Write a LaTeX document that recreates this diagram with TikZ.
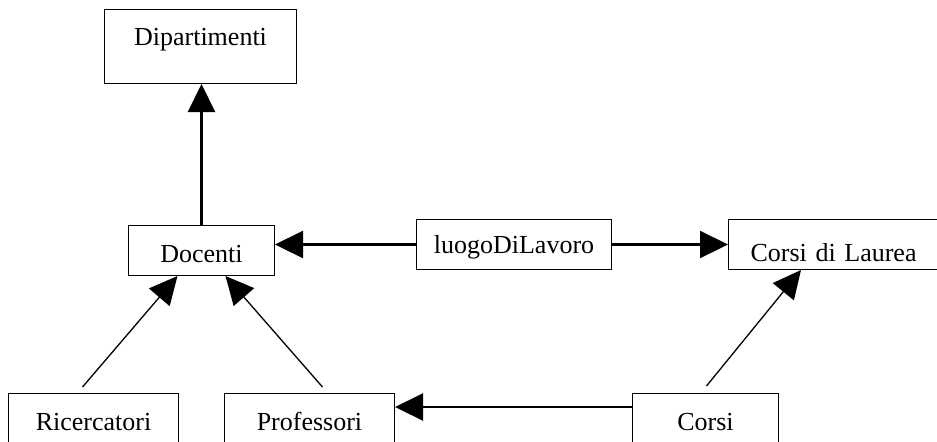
\documentclass[tikz,border=0pt]{standalone}
\usepackage{fontspec}
\setmainfont{Liberation Serif}
\usetikzlibrary{arrows.meta, calc}

\begin{document}
\begin{tikzpicture}[x=0.5pt, y=-0.5pt,
    every node/.style={font=\fontsize{13}{15}\selectfont},
    classe/.style={draw, line width=0.5pt, anchor=north west, inner sep=0pt},
    freccia/.style={-{Triangle[length=14pt, width=13.5pt]}, line width=1.1pt},
    fine/.style={-{Triangle[length=14pt, width=13.5pt]}, line width=0.65pt}]
    \useasboundingbox (0,0) rectangle (937,441);
    % classi dello schema
    \node[classe, minimum width=96pt, text height=18pt, text depth=19pt]
      (dip) at (104,9) {Dipartimenti};
    \node[classe, minimum width=73pt, text height=18.5pt, text depth=6.5pt]
      (doc) at (128,225) {Docenti};
    \node[classe, minimum width=97.5pt, text height=17pt, text depth=8pt]
      (luogo) at (416,219) {luogoDiLavoro};
    \node[classe, text width=120pt, align=left, inner xsep=11pt,
      text height=21pt, text depth=4pt]
      (cdl) at (728,219) {Corsi di Laurea};
    \node[classe, minimum width=85pt, text height=18.5pt, text depth=15pt]
      (ric) at (8,393) {Ricercatori};
    \node[classe, minimum width=85pt, text height=18.5pt, text depth=15pt]
      (prof) at (224,393) {Professori};
    \node[classe, minimum width=73pt, text height=18.5pt, text depth=15pt]
      (corsi) at (632,393) {Corsi};
    % collegamenti
    \draw[freccia] (doc.north) -- (doc.north |- dip.south);
    \draw[freccia] (luogo.west) -- (luogo.west -| doc.east);
    \draw[freccia] (luogo.east) -- (luogo.east -| cdl.west);
    \draw[fine] ($(ric.north)+(-11,-6)$) -- ($(doc.south)+(-24,0)$);
    \draw[fine] ($(prof.north)+(13,-6)$) -- ($(doc.south)+(24,0)$);
    \draw[freccia] ($(corsi.north west)+(0,14)$) -- ($(prof.north east)+(0,14)$);
    \draw[fine] ($(corsi.north)+(1,-7)$) -- ($(cdl.south west)+(73,0)$);
\end{tikzpicture}
\end{document}
